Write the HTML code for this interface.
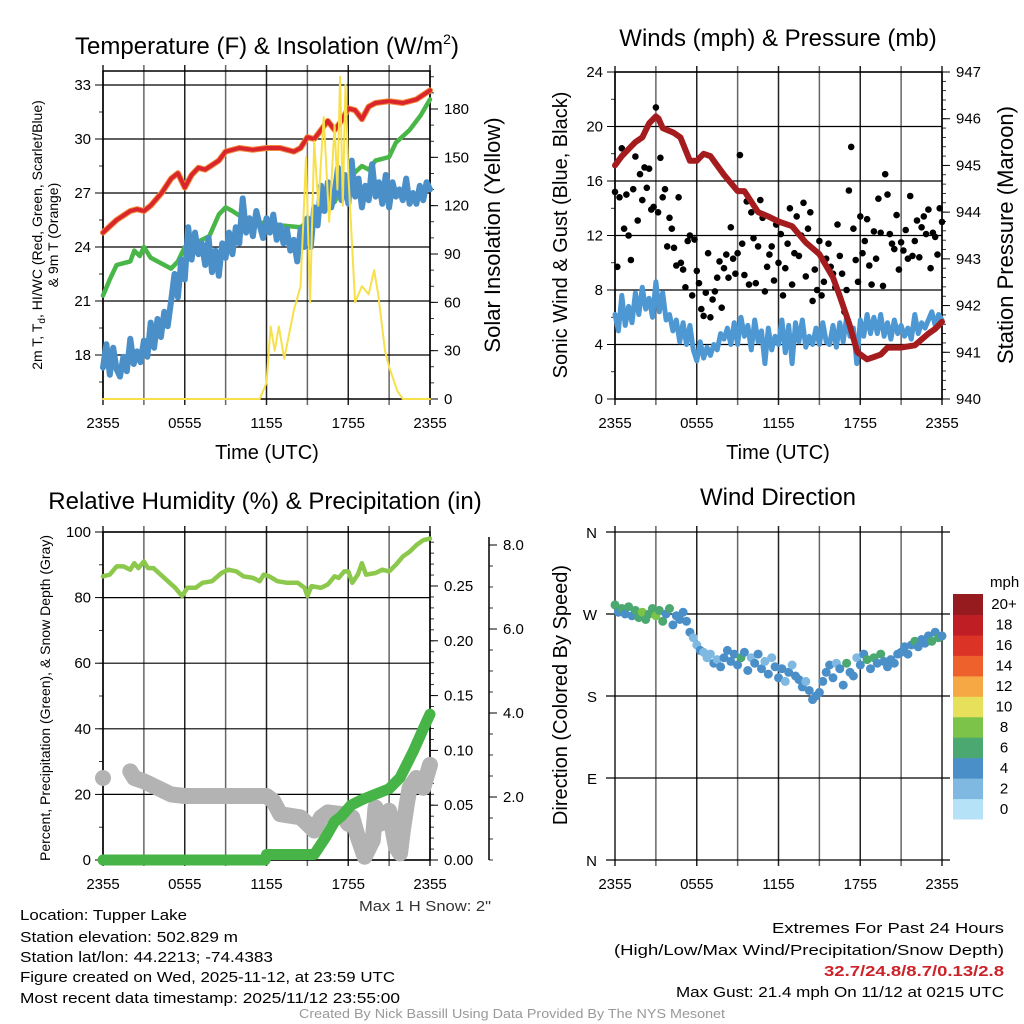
<!DOCTYPE html>
<html><head><meta charset="utf-8"><title>Tupper Lake Meteogram</title>
<style>
html,body{margin:0;padding:0;background:#fff;}
svg{display:block;font-family:"Liberation Sans",Arial,sans-serif;}
</style></head>
<body>
<svg id="fig" width="1024" height="1024" viewBox="0 0 1024 1024" xmlns="http://www.w3.org/2000/svg">
<rect x="0" y="0" width="1024" height="1024" fill="#fff"/>
<text x="267" y="54" font-size="24" text-anchor="middle">Temperature (F) &amp; Insolation (W/m<tspan font-size="14" dy="-10">2</tspan><tspan dy="10">)</tspan></text>
<text x="778" y="46" font-size="24" text-anchor="middle">Winds (mph) &amp; Pressure (mb)</text>
<text x="265" y="509" font-size="24" text-anchor="middle">Relative Humidity (%) &amp; Precipitation (in)</text>
<text x="778" y="505" font-size="24" text-anchor="middle">Wind Direction</text>

<text x="267" y="459" font-size="20" text-anchor="middle">Time (UTC)</text>
<text x="778" y="459" font-size="20" text-anchor="middle">Time (UTC)</text>

<text transform="translate(42,235) rotate(-90)" font-size="14" text-anchor="middle">2m T, T<tspan font-size="10" dy="3">d</tspan><tspan dy="-3">, HI/WC (Red, Green, Scarlet/Blue)</tspan></text>
<text transform="translate(58,235) rotate(-90)" font-size="14" text-anchor="middle">&amp; 9m T (Orange)</text>
<text transform="translate(500,235) rotate(-90)" font-size="22" text-anchor="middle">Solar Insolation (Yellow)</text>
<text transform="translate(567,235) rotate(-90)" font-size="20" text-anchor="middle">Sonic Wind &amp; Gust (Blue, Black)</text>
<text transform="translate(1013,235) rotate(-90)" font-size="22" text-anchor="middle">Station Pressure (Maroon)</text>
<text transform="translate(50,698) rotate(-90)" font-size="14" text-anchor="middle">Percent, Precipitation (Green), &amp; Snow Depth (Gray)</text>
<text transform="translate(567,695) rotate(-90)" font-size="20" text-anchor="middle">Direction (Colored By Speed)</text>

<text x="491" y="911" font-size="15" text-anchor="end" fill="#333" textLength="132" lengthAdjust="spacingAndGlyphs">Max 1 H Snow: 2"</text>
<g font-size="15" fill="#000">
<text x="20" y="920" textLength="167" lengthAdjust="spacingAndGlyphs">Location: Tupper Lake</text>
<text x="20" y="942" textLength="218" lengthAdjust="spacingAndGlyphs">Station elevation: 502.829 m</text>
<text x="20" y="962" textLength="253" lengthAdjust="spacingAndGlyphs">Station lat/lon: 44.2213; -74.4383</text>
<text x="20" y="982" textLength="375" lengthAdjust="spacingAndGlyphs">Figure created on Wed, 2025-11-12, at 23:59 UTC</text>
<text x="20" y="1003" textLength="380" lengthAdjust="spacingAndGlyphs">Most recent data timestamp: 2025/11/12 23:55:00</text>
</g>
<g font-size="15" text-anchor="end">
<text x="1004" y="933" textLength="232" lengthAdjust="spacingAndGlyphs">Extremes For Past 24 Hours</text>
<text x="1004" y="955" textLength="390" lengthAdjust="spacingAndGlyphs">(High/Low/Max Wind/Precipitation/Snow Depth)</text>
<text x="1004" y="976" font-weight="bold" fill="#cc2229" textLength="180" lengthAdjust="spacingAndGlyphs">32.7/24.8/8.7/0.13/2.8</text>
<text x="1004" y="997" textLength="328" lengthAdjust="spacingAndGlyphs">Max Gust: 21.4 mph On 11/12 at 0215 UTC</text>
</g>
<text x="512" y="1018" font-size="13" fill="#999" text-anchor="middle" textLength="426" lengthAdjust="spacingAndGlyphs">Created By Nick Bassill Using Data Provided By The NYS Mesonet</text>
<g id="plots"></g>
</svg>
<script>
// ---------- Data ----------
const xTickLabels = ["2355","0555","1155","1755","2355"];
const tempTicks = [18,21,24,27,30,33];
const insolTicks = [0,30,60,90,120,150,180];
const windTicks = [0,4,8,12,16,20,24];
const presTicks = [940,941,942,943,944,945,946,947];
const rhTicks = [0,20,40,60,80,100];
const precipTicks = [0.00,0.05,0.10,0.15,0.20,0.25];
const snowTicks = [2.0,4.0,6.0,8.0];
const dirTicks = ["N","E","S","W","N"];
const dirTickDeg = [0,90,180,270,360];
const cbarLabels = ["0","2","4","6","8","10","12","14","16","18","20+"];

const tempHrs = [0,1,2,2.5,3,3.5,4.3,5,5.5,6,6.5,7,7.5,8.5,9,10,11,12,13,14,14.5,15,15.5,16,16.5,17,17.5,18,18.5,19,19.5,20,21,22,23,24];
const tempVals = [24.8,25.5,26,26.1,26,26.3,27,27.8,28.1,27.3,28,28.4,28.3,28.8,29.3,29.5,29.4,29.5,29.5,29.3,29.5,30.1,30,30.5,31,30.5,31,31.7,31.6,31.1,31.8,32,32.1,32,32.2,32.7];
const dewHrs = [0,0.5,1,2,2.3,2.7,3,3.5,4.5,5,5.5,6,7,7.8,8.5,9,9.5,10.5,11,12,13,14.5,15,16,17,17.5,18,19,19.5,20,21,21.5,22.5,23.3,24];
const dewVals = [21.3,22.2,23,23.2,23.8,23.5,24,23.4,23,22.8,23.2,24,24.3,24.6,25.8,26.2,26,25.5,25.2,25.4,25.2,25.1,25.4,26,26.5,27.3,27.8,28.5,28.3,28.8,29,29.8,30.5,31.3,32.2];
const chillVals = [17.3,18.6,16.9,18.4,17.2,16.8,17.9,17.1,18.9,17.5,18.2,17.6,18.8,17.9,19.8,18.4,20.0,19.0,20.4,19.6,21.0,22.5,21.2,23.3,22.2,25.1,23.3,24.8,23.6,24.2,23.0,24.5,22.6,23.8,22.4,24.2,23.4,24.8,23.6,25.1,24.2,26.7,24.8,25.6,24.6,26.0,25.2,24.5,25.6,24.8,25.8,24.4,25.2,24.2,25.0,23.8,24.4,23.2,25.0,24.0,25.6,24.0,26.2,25.2,27.4,26.0,27.6,26.2,27.0,28.4,26.6,28.0,26.4,28.8,26.8,27.8,26.2,27.4,26.6,28.6,26.8,27.6,26.4,28.0,26.2,27.6,26.8,27.2,26.6,27.8,26.4,27.0,26.4,27.4,26.6,27.6,27.2];
const solarHrs = [0,11.5,12,12.3,12.6,12.9,13.3,14,14.5,14.9,15.2,15.5,15.8,16.2,16.6,17,17.2,17.4,17.6,17.8,18,18.5,19,19.5,19.9,20.2,20.7,21,21.6,22,24];
const solarVals = [0,0,10,45,30,45,25,55,70,150,60,160,120,175,110,170,130,200,120,195,140,60,70,65,80,65,30,20,5,0,0];

const presHrs = [0,0.5,1.5,2,2.5,3,3.2,3.5,4.3,4.8,5.5,6,6.5,7,8,9,9.5,10.5,11.3,12,13,14,15,16,16.5,17.2,17.8,18.5,19,19.5,20,21,22,23,23.5,24];
const presVals = [945.0,945.2,945.5,945.6,945.9,946.05,946.0,945.8,945.7,945.6,945.1,945.1,945.25,945.2,944.8,944.45,944.45,944.0,943.9,943.8,943.7,943.35,943.1,942.6,942.2,941.6,941.0,940.85,940.9,940.95,941.1,941.1,941.15,941.4,941.5,941.65];
const windVals = [6.2,5.0,7.6,5.4,6.8,5.6,7.8,6.2,8.2,6.6,7.4,6.0,8.6,6.4,7.8,5.8,6.2,5.0,5.8,4.2,5.6,4.0,5.4,3.6,2.8,4.2,3.0,3.8,3.2,4.0,3.6,4.8,4.4,5.2,4.0,5.6,4.0,6.0,4.6,5.4,3.6,5.8,4.2,5.0,2.6,5.2,3.6,4.6,4.0,5.8,3.4,5.4,2.6,5.6,4.2,5.8,3.8,4.6,4.0,5.2,4.0,5.6,4.2,4.0,5.4,3.8,5.6,4.2,6.0,4.6,5.2,2.6,5.8,4.6,6.2,4.8,6.0,4.8,6.2,4.6,5.6,4.4,5.8,4.8,5.4,4.6,5.2,4.4,6.2,4.8,5.6,5.2,5.8,6.4,5.4,6.2,5.8];
const gustVals = [15.2,9.7,14.8,18.4,12.5,15.0,12.0,10.2,15.4,17.8,13.1,16.5,14.6,17.0,15.5,16.9,13.9,14.1,21.4,13.7,17.7,14.8,15.4,11.2,13.3,12.5,11.1,9.8,14.8,10.0,9.5,8.2,11.6,12.0,7.6,11.7,9.4,8.5,6.6,6.1,7.8,10.7,6.0,7.3,7.9,8.9,10.1,6.7,9.6,10.6,8.9,12.6,10.3,9.2,10.7,17.9,11.4,9.1,14.5,8.4,13.7,11.8,8.5,11.2,14.6,13.3,7.9,9.7,10.6,11.2,8.7,12.8,10.0,12.1,7.6,9.6,11.4,14.0,8.4,10.7,13.4,10.5,12.0,14.4,9.0,12.5,13.7,7.2,9.5,8.0,11.6,7.6,8.6,10.3,11.4,9.7,9.2,8.2,12.8,10.5,9.2,6.4,8.0,15.3,18.5,12.5,10.2,8.6,13.4,10.7,11.6,13.2,9.8,8.4,12.3,10.3,14.7,12.2,8.3,16.5,15.0,12.1,11.4,11.0,13.5,9.5,11.5,10.9,12.4,10.3,14.9,10.5,11.6,13.1,10.4,12.6,13.4,12.1,13.9,9.6,12.2,11.9,10.6,14.0,13.0];

const rhHrs = [0,0.5,1,1.5,2,2.3,2.6,3,3.3,3.7,4.5,5.3,5.8,6.2,6.8,7.3,8,8.7,9.2,9.8,10.3,11,11.5,11.8,12.2,12.8,13.5,14.3,14.8,15,15.3,16,16.5,17,17.3,17.7,18,18.3,18.7,19,19.3,20,20.5,21,21.5,22,22.5,23,23.5,24];
const rhVals = [86.5,87,89.5,89.5,88.5,90.5,89,91,89,89,86,83,80.5,83,83,84.5,85,87.5,88.5,88,86.5,86,85,87,86.5,85,84.5,84.5,83,80.5,83.5,83,84,86.5,86,88,88,84.5,87,90.5,87,87.5,88.5,88,90,92.5,94,96,97.5,98];
const precipHrs = [0,11.9,12,15.5,16.3,17,17.5,18.2,19,20,21,21.8,22.8,23.7,24];
const precipVals = [0,0,0.005,0.005,0.02,0.035,0.04,0.05,0.055,0.06,0.065,0.075,0.1,0.125,0.133];
const snowHrs = [2,2.3,3,4,5,6,8,10,12,12.5,13,14.5,15,15.5,16,16.5,17.5,18,18.3,18.7,19.2,19.8,20,20.3,21,21.5,21.8,22,22.3,22.5,23,23.5,24];
const snowVals = [2.7,2.5,2.4,2.2,2.0,1.95,1.95,1.95,1.95,1.8,1.4,1.3,1.1,0.9,1.3,1.45,1.4,1.1,1.3,0.7,0.1,0.6,1.6,1.1,1.5,0.4,0.2,0.9,1.7,2.2,2.5,2.2,2.9];
const snowStartVal = [2.5];

const dirVals = [280,272,276,270,278,268,274,266,272,264,270,276,268,274,262,270,276,258,268,264,272,262,250,244,236,230,228,222,226,216,220,212,222,230,218,226,214,222,228,208,222,216,226,210,218,204,222,212,200,210,196,206,214,202,198,190,196,186,176,180,184,196,206,214,200,216,210,192,216,206,202,222,214,226,220,210,222,216,226,218,212,220,216,226,228,234,226,236,240,234,242,238,246,240,250,244,246];

// ---------- Rendering ----------
const NS = "http://www.w3.org/2000/svg";
const root = document.getElementById("plots");
const W = 327, HOURS = 24;
function mk(tag, attrs, parent){ const e=document.createElementNS(NS,tag); for(const k in attrs) e.setAttribute(k,attrs[k]); (parent||root).appendChild(e); return e; }
function xs(L){ return t => L + t*W/HOURS; }
function lin(v0,v1,y0,y1){ return v => y0 + (v-v0)*(y1-y0)/(v1-v0); }
function evenHrs(n){ const a=[]; for(let i=0;i<n;i++) a.push(i*HOURS/(n-1)); return a; }
function pathD(ts,vs,xf,yf){ return ts.map((t,i)=>(i?"L":"M")+xf(t).toFixed(1)+","+yf(vs[i]).toFixed(1)).join(" "); }

function drawFrame(L,T,B,name,box){
  const g = mk("g",{});
  
  
  const X = xs(L);
  for(let h=0;h<=24;h+=3){
    const ln = mk("line",{x1:X(h),x2:X(h),y1:T-6,y2:B+6,stroke:(h%6===0)?"#222":"#666","stroke-width":1.5},g);
    
    
  }
  xTickLabels.forEach((lab,i)=>{
    const tx = mk("text",{x:X(i*6),y:B+29,"font-size":15,"text-anchor":"middle"},g);
    tx.textContent = lab;
    
    
  });
  if(box){
    const r = mk("rect",{x:L,y:T,width:W,height:B-T,fill:"none",stroke:"#000","stroke-width":1.5},g);
    
    
  }
  return X;
}
function hTicks(L,ticks,yf,fmt,name,grid,side,minorStep,vmin,vmax){
  const g=mk("g",{});
  
  
  ticks.forEach(v=>{
    const y=yf(v);
    if(grid){ const gl=mk("line",{x1:L,x2:L+W,y1:y,y2:y,stroke:"#000","stroke-width":1.2},g);
      
       }
    const ax = side==="left"? L : side;
    const tk=mk("line",{x1:side==="left"?ax-8:ax,x2:side==="left"?ax:ax+8,y1:y,y2:y,stroke:"#000","stroke-width":1},g);
    
    
    const tx=mk("text",{x:side==="left"?ax-12:ax+14,y:y+5,"font-size":15,"text-anchor":side==="left"?"end":"start"},g);
    tx.textContent=fmt(v);
    
    
  });
  if(minorStep){
    for(let v=vmin; v<=vmax+1e-9; v+=minorStep){
      const y=yf(v); const ax = side==="left"? L : side;
      const m=mk("line",{x1:side==="left"?ax-4:ax,x2:side==="left"?ax:ax+4,y1:y,y2:y,stroke:"#000","stroke-width":0.8},g);
      
      
    }
  }
}
function series(ts,vs,xf,yf,color,w,name,extra){
  const p=mk("path",Object.assign({d:pathD(ts,vs,xf,yf),fill:"none",stroke:color,"stroke-width":w,"stroke-linejoin":"round","stroke-linecap":"round"},extra||{}));
  
  
  return p;
}

// Panel 1: temperature
(function(){
  const L=103,T=71,B=399;
  const X=drawFrame(L,T,B,"temp-panel",true);
  const yT=lin(33,18,85,355);
  const yS=lin(0,180,399,109);
  hTicks(L,tempTicks,yT,v=>String(v),"temp-y-axis",true,"left",1.5,16.5,33);
  hTicks(L,insolTicks,yS,v=>String(v),"insolation-y-axis",false,L+W,10,0,200);
  series(tempHrs,tempVals,X,yT,"#f08a3a",6,"temp-9m-orange-line");
  series(tempHrs,tempVals,X,yT,"#d9252b",4,"temp-2m-red-line");
  series(dewHrs,dewVals,X,yT,"#49b648",4.5,"dewpoint-green-line");
  series(evenHrs(chillVals.length),chillVals,X,yT,"#4a8fc8",6,"windchill-blue-line");
  series(solarHrs,solarVals,X,yS,"#f7e04a",2,"solar-insolation-yellow-line");
})();

// Panel 2: winds & pressure
(function(){
  const L=615,T=72,B=399;
  const X=drawFrame(L,T,B,"winds-panel",true);
  const yW=lin(0,24,399,72);
  const yP=lin(940,947,399,72);
  hTicks(L,windTicks,yW,v=>String(v),"wind-y-axis",true,"left",2,0,24);
  hTicks(L,presTicks,yP,v=>String(v),"pressure-y-axis",false,L+W,0.2,940,947);
  series(evenHrs(windVals.length),windVals,X,yW,"#4d97d3",5,"sustained-wind-blue-line");
  const gh=evenHrs(gustVals.length);
  gustVals.forEach((v,i)=>{
    const c=mk("circle",{cx:X(gh[i]).toFixed(1),cy:yW(v).toFixed(1),r:3.3,fill:"#000"});
    
    
  });
  series(presHrs,presVals,X,yP,"#a51c1f",6,"station-pressure-maroon-line");
})();

// Panel 3: RH & precip
(function(){
  const L=103,T=532,B=860;
  const X=drawFrame(L,T,B,"humidity-panel",true);
  const yR=lin(0,100,860,532);
  const yPr=lin(0,0.25,860,586);
  const yS=lin(0,10,860,532);
  const ySnowAxis=lin(2,8,797,545);
  hTicks(L,rhTicks,yR,v=>String(v),"rh-y-axis",true,"left",10,0,100);
  hTicks(L,precipTicks,yPr,v=>v.toFixed(2),"precip-y-axis",false,L+W,0.01,0,0.29);
  const ax=489;
  const sl=mk("line",{x1:ax,x2:ax,y1:537,y2:860,stroke:"#000","stroke-width":1.5});
  
  
  hTicks(L,snowTicks,ySnowAxis,v=>v.toFixed(1),"snow-depth-y-axis",false,ax,0.5,0.5,8.2);
  series(rhHrs,rhVals,X,yR,"#8cc84b",4.5,"relative-humidity-line");
  series(snowHrs,snowVals,X,yS,"#b3b3b3",16,"snow-depth-gray-line");
  const c0=mk("circle",{cx:X(0),cy:yS(snowStartVal[0]),r:8,fill:"#b3b3b3"});
  
  
  series(precipHrs,precipVals,X,yPr,"#46b446",11,"precipitation-green-line");
})();

// Panel 4: wind direction
(function(){
  const L=615,T=532,B=860;
  const X=drawFrame(L,T,B,"direction-panel",false);
  const yD=lin(0,360,860,532);
  const g=mk("g",{});
  
  
  dirTickDeg.forEach((d,i)=>{
    const y=yD(d);
    const ln=mk("line",{x1:606,x2:950,y1:y,y2:y,stroke:"#000","stroke-width":1.2},g);
    
    
    const tx=mk("text",{x:597,y:y+6,"font-size":15,"text-anchor":"end"},g);
    tx.textContent=dirTicks[i];
    
    
  });
  const cols=["#b6e2f7","#7fb9e2","#4a8fc8","#4aa870","#7cc34a","#e7e05a","#f5a843","#ee612d","#dc3327","#be1e24","#951b1e"];
  const dh=evenHrs(dirVals.length);
  dirVals.forEach((d,i)=>{
    const sp=windVals[i];
    const idx=Math.min(10,Math.floor(sp/2));
    const c=mk("circle",{cx:X(dh[i]).toFixed(1),cy:yD(d).toFixed(1),r:4.5,fill:cols[idx]});
    
    
  });
  const cb=mk("g",{});
  
  
  const top=594, bh=225/11;
  const mt=mk("text",{x:990,y:587,"font-size":15},cb);
  mt.textContent="mph";
  
  
  cbarLabels.forEach((lab,i)=>{
    const y=top+(10-i)*bh;
    const r=mk("rect",{x:953,y:y.toFixed(1),width:30,height:(bh+0.5).toFixed(1),fill:cols[i]},cb);
    
    
    const tx=mk("text",{x:1004,y:(y+bh/2+5).toFixed(1),"font-size":15,"text-anchor":"middle"},cb);
    tx.textContent=lab;
    
    
  });
})();
</script>
</body></html>
